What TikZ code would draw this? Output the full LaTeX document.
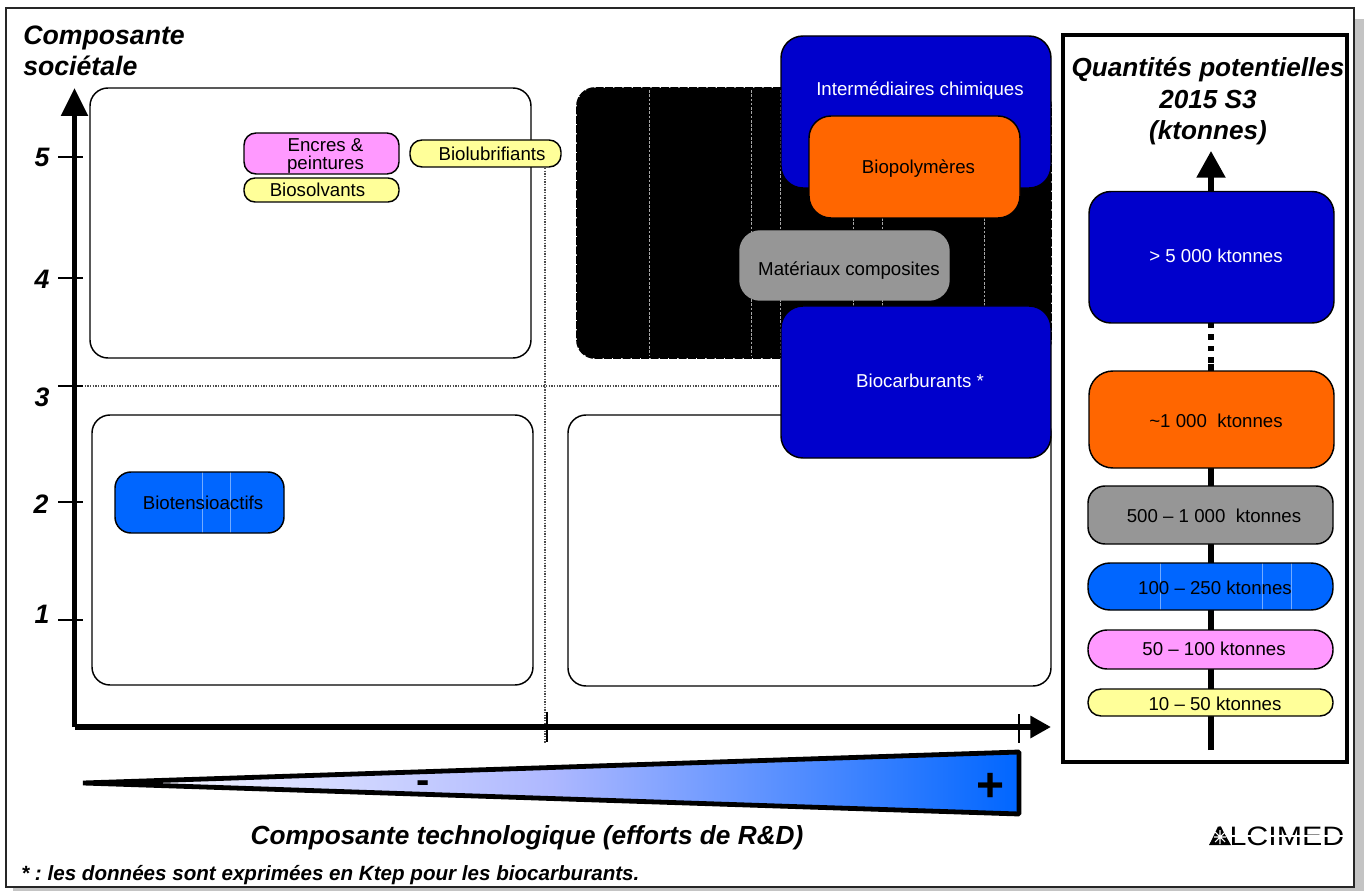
\documentclass[tikz,border=0pt]{standalone}
\usepackage{fontspec}
\setmainfont{Liberation Sans}
\usetikzlibrary{arrows.meta}
\definecolor{cblue}{HTML}{0000CC}
\definecolor{corange}{HTML}{FF6600}
\definecolor{cgray}{HTML}{969696}
\definecolor{cbright}{HTML}{0066FF}
\definecolor{cpink}{HTML}{FF99FF}
\definecolor{cyellow}{HTML}{FFFF99}
\definecolor{cstrip}{HTML}{C4C4C4}
\definecolor{cmid}{HTML}{AEB8FF}
\newdimen\bxu \bxu=.75pt
\tikzset{
  bx/.style={draw=black,line width=1.1pt,inner sep=0pt,outer sep=0pt,rectangle,font=\fontsize{14pt}{15pt}\selectfont},
  quad/.style={bx,fill=white,rounded corners=13.5pt},
  ttl/.style={font=\fontsize{20pt}{24pt}\selectfont\bfseries\itshape,inner sep=0pt},
  num/.style={font=\fontsize{20pt}{24pt}\selectfont\bfseries\itshape,inner sep=0pt},
  axisline/.style={line width=4pt,draw=black,-{Triangle[length=21pt,width=19.5pt]}},
  tick/.style={line width=1.1pt,draw=black},
  dots/.style={line width=.9pt,draw=black!70,dash pattern=on 1pt off 1pt},
  ghost/.style={line width=.3pt,draw=white!45!cbright},
  ghostk/.style={line width=.4pt,draw=white!65!black,dash pattern=on 2pt off 1.2pt},
}
\newcommand\bx[9]{%
  \node[bx,#2,minimum width={(#5-#3)*0.75pt},minimum height={(#6-#4)*0.75pt}] (#1)
    at ({(#3+#5)/2},{(#4+#6)/2})
    {\makebox[0pt][c]{\kern\dimexpr 2\dimexpr #7\bxu\relax\relax\smash{\raisebox{\dimexpr -#8\bxu-0.36em\relax}{#9}}}};%
}
\newcommand\ghostat[1]{\draw[ghost] ([xshift=#1]path picture bounding box.north) -- ([xshift=#1]path picture bounding box.south);}
\begin{document}
\begin{tikzpicture}[x=0.75pt,y=-0.75pt]
\useasboundingbox (0,0) rectangle (1364,891);
\fill[white] (0,0) rectangle (1364,891);
% margin strips and frame
\fill[cstrip] (1355,19) rectangle (1364,891);
\fill[cstrip] (13,888) rectangle (1364,891);
\node[draw=black!85,line width=1.1pt,inner sep=0pt,minimum width=1348*0.75pt,minimum height=879*0.75pt] (frame) at (680,447.5) {};
% quadrants
\bx{qa}{quad}{90}{88}{531}{358}{0}{0}{}
\bx{qc}{quad}{92}{415}{533}{685}{0}{0}{}
\bx{qd}{quad}{568}{415}{1051}{686}{0}{0}{}
% dotted guides
\coordinate (hl) at (58,386); \coordinate (hr) at (790,386);
\coordinate (vt) at (545,160); \coordinate (vb) at (545,744);
\draw[dots] (hl) -- (hr);
\draw[dots] (vt) -- (vb);
% black box
\node[rectangle,fill=black,draw=black,line width=1.3pt,dash pattern=on 6pt off 1pt,rounded corners=13.5pt,inner sep=0pt,minimum width=474*0.75pt,minimum height=270*0.75pt] (blackbox) at (814,223) {};
\foreach \vx in {649,751,780,853,882,984} \draw[ghostk] (\vx,90) -- (\vx,356);
% blocks
\bx{inter}{text=white,fill=cblue,rounded corners=16.5pt}{781}{36}{1051}{188}{4}{-23}{Intermédiaires chimiques}
\bx{biopol}{fill=corange,rounded corners=16.5pt}{809}{116}{1020}{218}{4}{0}{Biopolymères}
\bx{mater}{fill=cgray,draw=cgray,rounded corners=15pt}{740}{231}{949}{300}{4.5}{3}{Matériaux composites}
\bx{biocar}{text=white,fill=cblue,rounded corners=16.5pt}{781}{306}{1051}{458}{4}{-1}{Biocarburants *}
\bx{encres}{fill=cpink,rounded corners=9pt}{244}{133}{399}{174}{4}{1}{\fontsize{14pt}{12.75pt}\selectfont\begin{tabular}{@{}c@{}}Encres \&\\peintures\end{tabular}}
\bx{biosol}{fill=cyellow,rounded corners=8.25pt}{244}{178}{399}{202}{-4}{0}{Biosolvants}
\bx{biolub}{fill=cyellow,rounded corners=9pt}{410}{140}{561}{167}{6.5}{0.5}{Biolubrifiants}
\bx{biotens}{fill=cbright,rounded corners=12pt,path picture={\ghostat{1.9pt}\ghostat{22.9pt}}}{115}{472}{284}{533}{3.5}{0}{Biotensioactifs}
% axes
\coordinate (org) at (74.5,727); \coordinate (ytop) at (74.5,88); \coordinate (xend) at (1051,727);
\draw[axisline] (org) -- (ytop);
\draw[axisline,-{Triangle[length=15.5pt,width=16pt]}] (org) -- (xend);
\foreach \ty/\tl/\lx/\ly in {157/5/42/157,278/4/42/279,386/3/42/397,502/2/41/504,620/1/42/614}{
  \coordinate (ta\tl) at (58,\ty); \coordinate (tb\tl) at (83,\ty);
  \draw[tick] (ta\tl) -- (tb\tl);
  \node[num] (lab\tl) at (\lx,\ly) {\tl};
}
\coordinate (xa) at (547,712); \coordinate (xb) at (547,742);
\coordinate (xc) at (1019,714); \coordinate (xd) at (1019,743);
\draw[tick] (xa) -- (xb);
\draw[tick] (xc) -- (xd);
% wedge
\draw[line width=3.6pt,line join=miter,miter limit=1,left color=white,right color=cbright,middle color=cmid] (83,783) -- (1019,752) -- (1019,814) -- cycle;
\node[inner sep=0pt,font=\fontsize{30pt}{30pt}\selectfont\bfseries] (minus) at (423,787) {-};
\node[inner sep=0pt,font=\fontsize{36pt}{36pt}\selectfont\bfseries] (plus) at (991,787) {+};
% titles
\node[ttl,anchor=west,align=left,font=\fontsize{20pt}{23.5pt}\selectfont\bfseries\itshape] (ysoc) at (23,51) {Composante\\sociétale};
\node[ttl,font=\fontsize{19.65pt}{24pt}\selectfont\bfseries\itshape] (xtech) at (527,838) {Composante technologique (efforts de R\&D)};
\node[ttl,anchor=west,font=\fontsize{15.45pt}{16pt}\selectfont\bfseries\itshape] (foot) at (21,875) {* :\ les données sont exprimées en Ktep pour les biocarburants.};
% logo
\node[inner sep=0pt,anchor=west,xscale=1.14,font=\fontsize{20pt}{20pt}\selectfont] (logo) at (1209,836) {ALCIMED};
\fill[black] (1220,826) -- (1231,845) -- (1209,845) -- cycle;
\draw[white,line width=.8pt] (1220,830) -- (1220,844) (1214,837) -- (1226,837) (1215,832) -- (1225,842) (1225,832) -- (1215,842);
\draw[white,line width=.9pt] (1232,836) -- (1346,836);
% right panel
\node[draw=black,line width=3.2pt,inner sep=0pt,minimum width=284*0.75pt,minimum height=727*0.75pt] (panel) at (1205,398.5) {};
\node[ttl,align=center,font=\fontsize{19.6pt}{23.6pt}\selectfont\bfseries\itshape] (ptitle) at (1208,101.5) {Quantités potentielles\\2015 S3\\(ktonnes)};
\coordinate (sb) at (1211,750); \coordinate (st) at (1211,151);
\draw[line width=3.9pt,-{Triangle[length=20pt,width=21pt]}] (sb) -- (st);
\coordinate (da) at (1211,328); \coordinate (db) at (1211,364);
\draw[white,line width=4.2pt,dash pattern=on 4.5pt off 4.2pt] (da) -- (db);
\bx{k5000}{text=white,fill=cblue,rounded corners=16.5pt}{1089}{191.5}{1334}{323}{4.5}{-1}{> 5 000 ktonnes}
\bx{k1000}{fill=corange,rounded corners=18pt}{1089}{371}{1334}{468}{4.5}{1.5}{\textasciitilde 1 000\ \ ktonnes}
\bx{k500}{fill=cgray,rounded corners=12.75pt}{1088}{486}{1333}{544}{3.5}{1}{500 – 1 000\ \ ktonnes}
\bx{k100}{fill=cbright,rounded corners=16.5pt,path picture={\ghostat{-37.9pt}\ghostat{38.6pt}\ghostat{60.4pt}}}{1088}{563}{1333}{610}{4.5}{1.5}{100 – 250 ktonnes}
\bx{k50}{fill=cpink,rounded corners=14.25pt}{1088}{630}{1333}{669}{3.5}{-0.5}{50 – 100 ktonnes}
\bx{k10}{fill=cyellow,rounded corners=9.75pt}{1088}{689}{1333}{716}{4.5}{1.5}{10 – 50 ktonnes}
\end{tikzpicture}
\end{document}
